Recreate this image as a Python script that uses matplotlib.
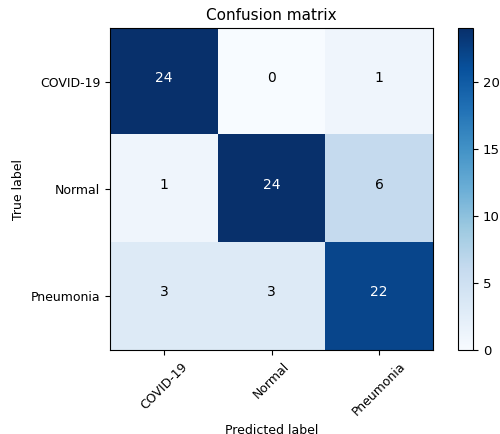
import numpy as np
import matplotlib
matplotlib.use('Agg')
import matplotlib.pyplot as plt

classes = ['COVID-19', 'Normal', 'Pneumonia']
cm = np.array([
    [24, 0, 1],
    [1, 24, 6],
    [3, 3, 22],
])

fig = plt.figure(figsize=(5.0, 4.34), dpi=100)
ax = fig.add_axes([0.22, 0.1935, 0.646, 0.742])
cax = fig.add_axes([0.916, 0.1935, 0.03, 0.742])

im = ax.imshow(cm, interpolation='nearest', cmap=plt.cm.Blues, aspect='auto')
ax.set_title('Confusion matrix', fontsize=11)
cb = fig.colorbar(im, cax=cax)
cb.ax.tick_params(labelsize=9.5)

tick_marks = np.arange(len(classes))
ax.set_xticks(tick_marks)
ax.set_xticklabels(classes, rotation=45, fontsize=9)
ax.set_yticks(tick_marks)
ax.set_yticklabels(classes, fontsize=9)

thresh = cm.max() / 2.
for i in range(cm.shape[0]):
    for j in range(cm.shape[1]):
        ax.text(j, i, format(cm[i, j], 'd'),
                horizontalalignment='center',
                fontsize=10,
                color='white' if cm[i, j] > thresh else 'black')

ax.set_ylabel('True label', fontsize=9)
ax.set_xlabel('Predicted label', fontsize=9)

fig.savefig('out.png', dpi=100)
